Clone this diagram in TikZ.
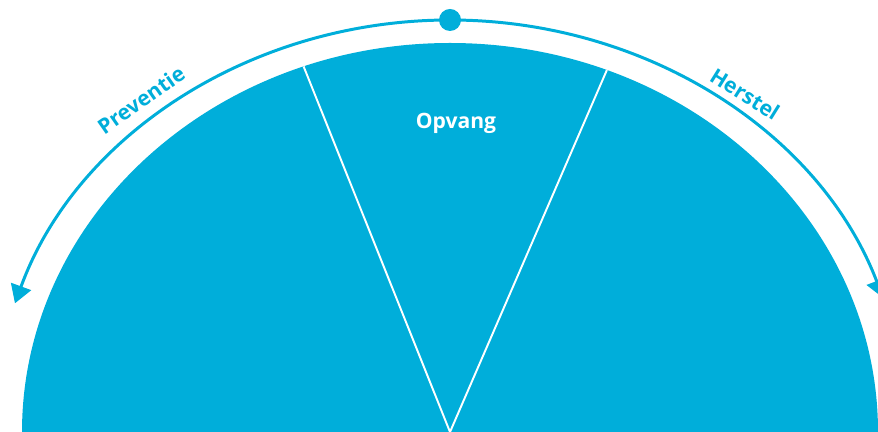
\documentclass[tikz,border=0pt]{standalone}
\usepackage{fontspec}
\setmainfont{Open Sans}
\usetikzlibrary{arrows.meta,calc}
\definecolor{cyanblue}{HTML}{00AEDA}

\begin{document}
\begin{tikzpicture}[x=0.02cm,y=0.02cm,>={Triangle[width=0.42cm,length=0.36cm]}]
  \useasboundingbox (0,0) rectangle (878,432);
  \clip (0,0) rectangle (878,432);

  % Centre and top of the outer arc
  \coordinate (O) at (450,0);
  \coordinate (T) at (450,412);

  % Half disk
  \fill[cyanblue] (22,0) arc[start angle=180,end angle=0,x radius=428,y radius=389] -- cycle;

  % Dividers of the middle sector
  \coordinate (L) at ($(O)+(110:428 and 389)$);
  \coordinate (R) at ($(O)+(68.5:428 and 389)$);
  \draw[white,line width=1.1pt] (L)--(O)--(R);

  % Outer arc with arrows
  \draw[cyanblue,line width=1.7pt,->] (T) arc[start angle=90,end angle=161.8,x radius=458,y radius=412];
  \draw[cyanblue,line width=1.7pt,->] (T) arc[start angle=90,end angle=19,x radius=458,y radius=412];
  \fill[cyanblue] (T) circle (11);

  % Labels
  \node[cyanblue,rotate=35,font=\bfseries\fontsize{12}{14}\selectfont] (prev) at (141,332) {Preventie};
  \node[cyanblue,rotate=-32,font=\bfseries\fontsize{12}{14}\selectfont] (herst) at (745,338) {Herstel};
  \node[white,font=\bfseries\fontsize{12}{14}\selectfont] (opv) at (456,309) {Opvang};
\end{tikzpicture}
\end{document}
